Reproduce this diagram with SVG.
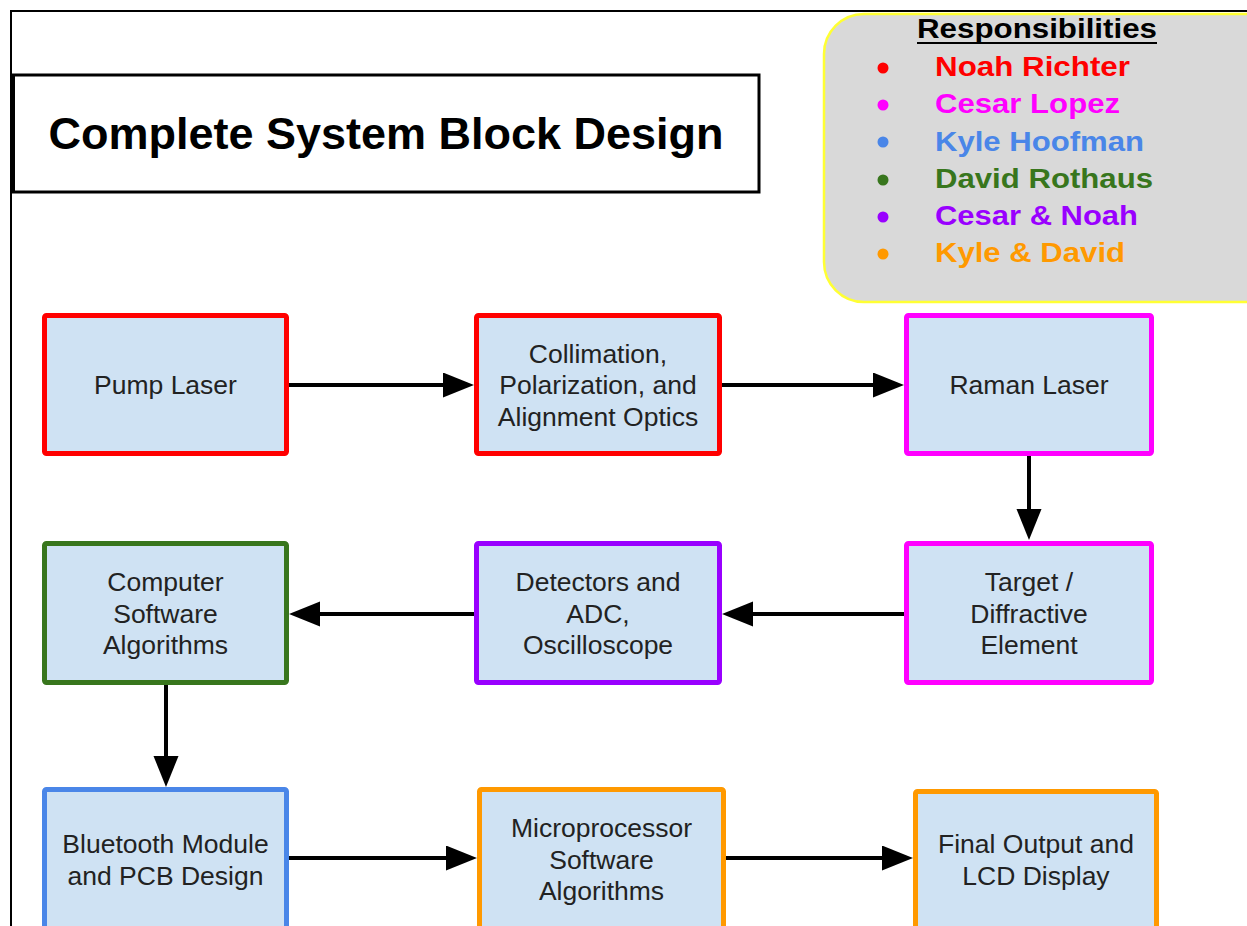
<svg xmlns="http://www.w3.org/2000/svg" width="1247" height="926" viewBox="0 0 1247 926">
<style>
.node{fill:#cfe2f3;stroke-width:5}
.lbl{font-family:"Liberation Sans",Arial,sans-serif;font-size:26.5px;fill:#222;text-anchor:middle}
.leg{font-family:"Liberation Sans",Arial,sans-serif;font-size:27px;font-weight:bold}
.edge{stroke:#000;stroke-width:4;fill:none;marker-end:url(#ah)}
</style>
<defs>
<marker id="ah" markerUnits="userSpaceOnUse" markerWidth="32" markerHeight="26" refX="3" refY="12.5" orient="auto">
<path d="M0,0 L31,12.5 L0,25 Z" fill="#000"/>
</marker>
</defs>
<rect width="1247" height="926" fill="#fff"/>
<g id="frame">
<line x1="11" y1="11" x2="1247" y2="11" stroke="#000" stroke-width="2"/>
<line x1="11" y1="10" x2="11" y2="926" stroke="#000" stroke-width="2"/>
</g>
<g id="title">
<rect x="13.5" y="75" width="745.5" height="117" fill="#fff" stroke="#000" stroke-width="3"/>
<text x="386" y="149" font-family="'Liberation Sans',Arial,sans-serif" font-size="45" font-weight="bold" text-anchor="middle" fill="#000">Complete System Block Design</text>
</g>
<g id="legend">
<rect x="824" y="14" width="460" height="288" rx="40" ry="40" fill="#d9d9d9" stroke="#ffff33" stroke-width="2.5"/>
<text class="leg" x="917" y="38" textLength="240" lengthAdjust="spacingAndGlyphs" fill="#000">Responsibilities</text>
<line x1="917" y1="43" x2="1157" y2="43" stroke="#000" stroke-width="2"/>
<circle cx="883" cy="68" r="5.5" fill="#ff0000"/>
<text class="leg" x="935" y="76" textLength="195" lengthAdjust="spacingAndGlyphs" fill="#ff0000">Noah Richter</text>
<circle cx="883" cy="105" r="5.5" fill="#ff00ff"/>
<text class="leg" x="935" y="113" textLength="185" lengthAdjust="spacingAndGlyphs" fill="#ff00ff">Cesar Lopez</text>
<circle cx="883" cy="142" r="5.5" fill="#4a86e8"/>
<text class="leg" x="935" y="151" textLength="209" lengthAdjust="spacingAndGlyphs" fill="#4a86e8">Kyle Hoofman</text>
<circle cx="883" cy="180" r="5.5" fill="#38761d"/>
<text class="leg" x="935" y="188" textLength="218" lengthAdjust="spacingAndGlyphs" fill="#38761d">David Rothaus</text>
<circle cx="883" cy="217" r="5.5" fill="#9900ff"/>
<text class="leg" x="935" y="225" textLength="203" lengthAdjust="spacingAndGlyphs" fill="#9900ff">Cesar &amp; Noah</text>
<circle cx="883" cy="254" r="5.5" fill="#ff9900"/>
<text class="leg" x="935" y="262" textLength="190" lengthAdjust="spacingAndGlyphs" fill="#ff9900">Kyle &amp; David</text>
</g>
<g id="connectors">
<line class="edge" x1="289" y1="385" x2="446" y2="385"/>
<line class="edge" x1="722" y1="385" x2="876" y2="385"/>
<line class="edge" x1="1029" y1="456" x2="1029" y2="512"/>
<line class="edge" x1="904" y1="614" x2="750" y2="614"/>
<line class="edge" x1="474" y1="614" x2="317" y2="614"/>
<line class="edge" x1="166" y1="685" x2="166" y2="759"/>
<line class="edge" x1="289" y1="858" x2="449" y2="858"/>
<line class="edge" x1="726" y1="858" x2="885" y2="858"/>
</g>
<g id="pump-laser">
<rect class="node" x="44.5" y="315.5" width="242" height="138" rx="2" stroke="#ff0000"/>
<text class="lbl" x="165.5" y="394">Pump Laser</text>
</g>
<g id="collimation">
<rect class="node" x="476.5" y="315.5" width="243" height="138" rx="2" stroke="#ff0000"/>
<text class="lbl" x="598" y="362.5">Collimation,</text>
<text class="lbl" x="598" y="394">Polarization, and</text>
<text class="lbl" x="598" y="425.5">Alignment Optics</text>
</g>
<g id="raman-laser">
<rect class="node" x="906.5" y="315.5" width="245" height="138" rx="2" stroke="#ff00ff"/>
<text class="lbl" x="1029" y="394">Raman Laser</text>
</g>
<g id="target">
<rect class="node" x="906.5" y="543.5" width="245" height="139" rx="2" stroke="#ff00ff"/>
<text class="lbl" x="1029" y="591">Target /</text>
<text class="lbl" x="1029" y="622.5">Diffractive</text>
<text class="lbl" x="1029" y="654">Element</text>
</g>
<g id="detectors">
<rect class="node" x="476.5" y="543.5" width="243" height="139" rx="2" stroke="#9900ff"/>
<text class="lbl" x="598" y="591">Detectors and</text>
<text class="lbl" x="598" y="622.5">ADC,</text>
<text class="lbl" x="598" y="654">Oscilloscope</text>
</g>
<g id="computer">
<rect class="node" x="44.5" y="543.5" width="242" height="139" rx="2" stroke="#38761d"/>
<text class="lbl" x="165.5" y="591">Computer</text>
<text class="lbl" x="165.5" y="622.5">Software</text>
<text class="lbl" x="165.5" y="654">Algorithms</text>
</g>
<g id="bluetooth">
<rect class="node" x="44.5" y="789.5" width="242" height="145" rx="2" stroke="#4a86e8"/>
<text class="lbl" x="165.5" y="853">Bluetooth Module</text>
<text class="lbl" x="165.5" y="885">and PCB Design</text>
</g>
<g id="microprocessor">
<rect class="node" x="479.5" y="789.5" width="244" height="145" rx="2" stroke="#ff9900"/>
<text class="lbl" x="601.5" y="837">Microprocessor</text>
<text class="lbl" x="601.5" y="868.5">Software</text>
<text class="lbl" x="601.5" y="900">Algorithms</text>
</g>
<g id="final-output">
<rect class="node" x="915.5" y="791.5" width="241" height="145" rx="2" stroke="#ff9900"/>
<text class="lbl" x="1036" y="853">Final Output and</text>
<text class="lbl" x="1036" y="885">LCD Display</text>
</g>
</svg>
